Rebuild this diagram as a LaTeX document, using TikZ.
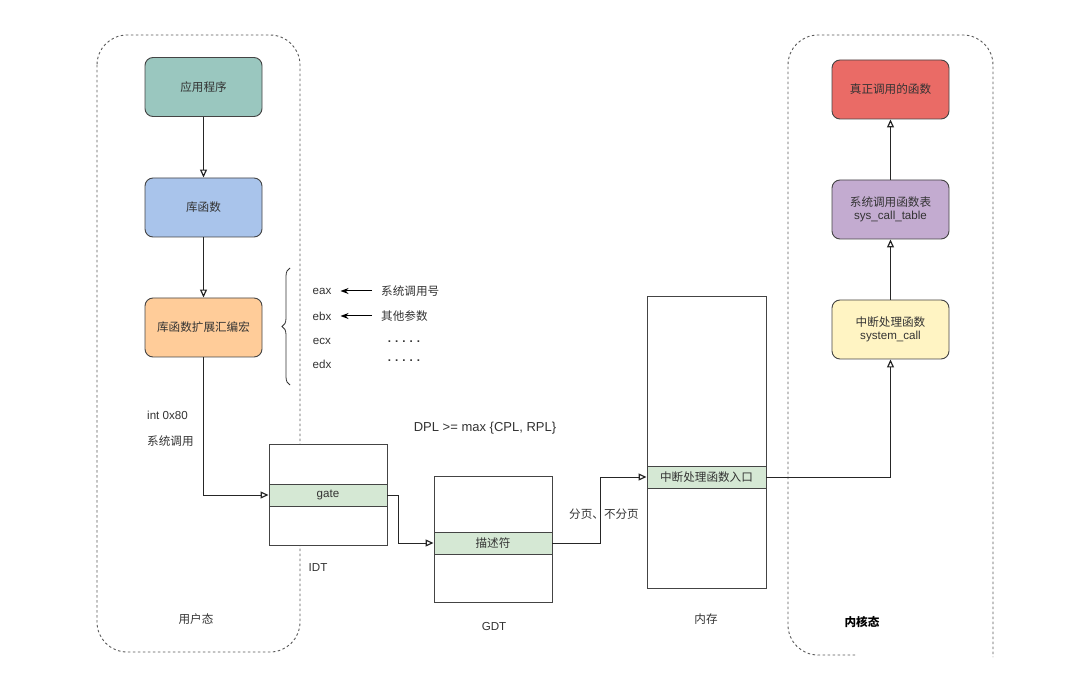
\documentclass[tikz,border=0pt]{standalone}
\usepackage{fontspec}
\setmainfont{Liberation Sans}
\newfontfamily\cjk{Noto Sans CJK SC}
\usetikzlibrary{arrows.meta,decorations.pathreplacing,calc}
\definecolor{cteal}{HTML}{9AC7BF}
\definecolor{cblue}{HTML}{A9C4EB}
\definecolor{corange}{HTML}{FFCC99}
\definecolor{cyellow}{HTML}{FFF4C3}
\definecolor{cpurple}{HTML}{C3ABD0}
\definecolor{cred}{HTML}{EA6B66}
\definecolor{cgreen}{HTML}{D5E8D4}
\definecolor{cline}{HTML}{444444}
\definecolor{ctext}{HTML}{333333}
\begin{document}
\begin{tikzpicture}[x=1pt,y=-1pt,
  font=\fontsize{11.6}{13.5}\selectfont, text=ctext,
  roundbox/.style={draw=cline, line width=0.9pt, rounded corners=8pt, minimum width=117pt, minimum height=59pt, align=center, inner sep=1pt},
  tablebox/.style={draw=cline, line width=0.9pt, fill=white, minimum width=118pt, inner sep=0pt},
  rowbox/.style={draw=cline, line width=0.9pt, fill=cgreen, minimum width=118pt, minimum height=22pt, inner sep=0pt},
  flow/.style={draw=black!85, line width=1pt, -{Triangle[open,length=8pt,width=7pt,line width=1.2pt]}},
  regarrow/.style={draw=black, line width=1pt, -{Stealth[length=8pt,width=6pt]}},
  container/.style={draw=black!65, line width=0.9pt, dash pattern=on 2.5pt off 2.5pt, rounded corners=30pt},
  plain/.style={inner sep=1pt}
]
\useasboundingbox (0,0) rectangle (1080,687);
\fill[white] (0,0) rectangle (1080,687);

% containers
\draw[container] (97,35) rectangle (300,652);
\draw[container] (855,655) -- (788,655) -- (788,35) -- (993,35) -- (993,657);

% user side boxes
\node[roundbox, fill=cteal] (app) at (203.5,87) {\cjk 应用程序};
\node[roundbox, fill=cblue] (lib) at (203.5,207.5) {\cjk 库函数};
\node[roundbox, fill=corange] (asm) at (203.5,327.5) {\cjk 库函数扩展汇编宏};
\draw[flow] (app.south) -- (lib.north);
\draw[flow] (lib.south) -- (asm.north);

% brace and registers
\draw[draw=black!80, line width=0.8pt, decorate, decoration={brace, amplitude=8pt}] (290,385) -- (290,268);
\node[plain] (eax) at (322,291) {eax};
\node[plain] (ebx) at (322,316) {ebx};
\node[plain] (ecx) at (322,341) {ecx};
\node[plain] (edx) at (322,364) {edx};
\node[plain, anchor=west] (sysno) at (380,291) {\cjk 系统调用号};
\node[plain, anchor=west] (other) at (380,316) {\cjk 其他参数};
\node[plain] (dots1) at (404,342) {\bfseries .\hspace{4pt}.\hspace{4pt}.\hspace{4pt}.\hspace{4pt}.};
\node[plain] (dots2) at (404,361) {\bfseries .\hspace{4pt}.\hspace{4pt}.\hspace{4pt}.\hspace{4pt}.};
\draw[regarrow] (sysno.west) ++(-8,0) -- ([xshift=8pt]eax.east);
\draw[regarrow] (other.west) ++(-8,0) -- ([xshift=8pt]ebx.east);

% int 0x80 labels
\node[plain, anchor=west] (int) at (146,415) {int 0x80};
\node[plain, anchor=west] (syscall) at (146,441) {\cjk 系统调用};

% IDT
\node[tablebox, minimum height=101pt] (idt) at (328,494.5) {};
\node[rowbox] (gate) at (328,495) {gate};
\node[plain] (idtlab) at (318,568) {IDT};

% GDT
\node[tablebox, minimum height=126pt] (gdt) at (493,539) {};
\node[rowbox] (desc) at (493,543) {\cjk 描述符};
\node[plain] (gdtlab) at (494,627) {GDT};
\node[plain] (dpl) at (485,428) {\fontsize{13}{15}\selectfont DPL >= max \{CPL, RPL\}};

% memory
\node[tablebox, minimum height=292pt, minimum width=119pt] (mem) at (706.5,442) {};
\node[rowbox, minimum width=119pt] (entry) at (706.5,477) {\cjk 中断处理函数入口};
\node[plain] (memlab) at (706,619) {\cjk 内存};

% kernel side boxes
\node[roundbox, fill=cyellow] (sc) at (890.5,329.5) {\cjk 中断处理函数\\system\_call};
\node[roundbox, fill=cpurple] (sct) at (890.5,209.5) {\cjk 系统调用函数表\\sys\_call\_table};
\node[roundbox, fill=cred] (real) at (890.5,89.5) {\cjk 真正调用的函数};

% flow arrows
\draw[flow] (asm.south) |- (gate.west);
\draw[flow] (gate.east) -- ++(11,0) |- (desc.west);
\draw[flow] (desc.east) -- ++(48,0) coordinate (bend) |- (entry.west);
\node[plain] (paging) at (604,514) {\cjk 分页、不分页};
\draw[flow] (entry.east) -| (sc.south);
\draw[flow] (sc.north) -- (sct.south);
\draw[flow] (sct.north) -- (real.south);

% state labels
\node[plain] (user) at (196,619) {\cjk 用户态};
\node[plain, text=black] (kernel) at (862,622) {\cjk\bfseries 内核态};
\end{tikzpicture}
\end{document}
